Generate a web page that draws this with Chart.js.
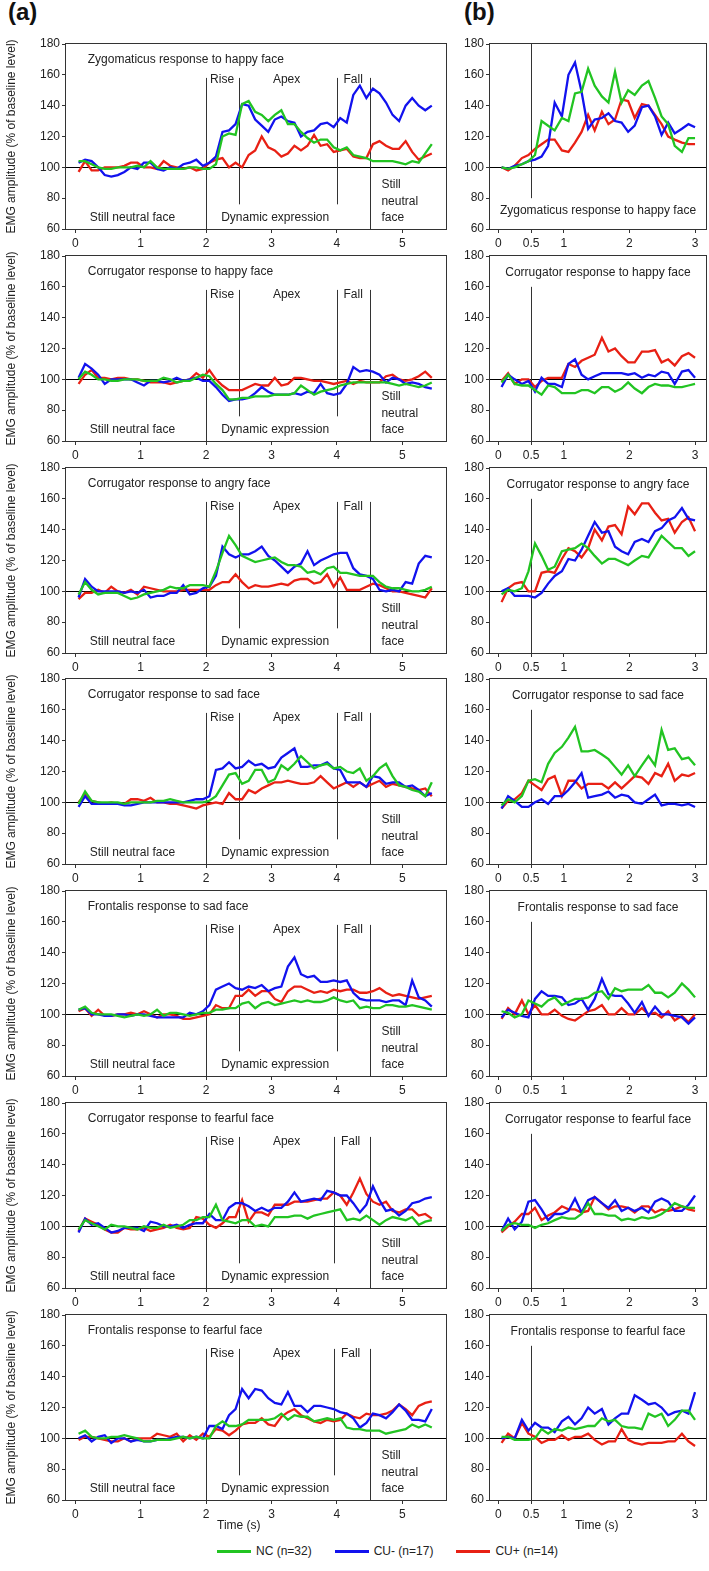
<!DOCTYPE html>
<html>
<head>
<meta charset="utf-8">
<script src="https://cdn.jsdelivr.net/npm/chart.js@4.4.1/dist/chart.umd.min.js"></script>
<style>
  body { margin: 0; background: #fff; width: 709px; height: 1571px; position: relative; overflow: hidden;
         font-family: "Liberation Sans", Arial, sans-serif; color: #222; }
  canvas { position: absolute; }
  .tag { position: absolute; top: 0; font-size: 24px; line-height: 24px; font-weight: bold; color: #111; }
  #legend { position: absolute; left: 217px; top: 1543px; display: flex; align-items: center; font-size: 12px; height: 16px; }
  #legend .sw { width: 34px; height: 3px; margin-right: 5px; }
  #legend .lab { margin-right: 23px; white-space: nowrap; }
</style>
</head>
<body>
<div class="tag" style="left:8px">(a)</div>
<div class="tag" style="left:464px">(b)</div>
<div id="legend"></div>
<script>
// time axis (s)
const tL = [0.05,0.15,0.25,0.35,0.45,0.55,0.65,0.75,0.85,0.95,1.05,1.15,1.25,1.35,1.45,1.55,1.65,1.75,1.85,1.95,
  2.05,2.15,2.25,2.35,2.45,2.55,2.65,2.75,2.85,2.95,3.05,3.15,3.25,3.35,3.45,3.55,3.65,3.75,3.85,3.95,
  4.05,4.15,4.25,4.35,4.45,4.55,4.65,4.75,4.85,4.95,5.05,5.15,5.25,5.35,5.45];
const tR = [0.05,0.15,0.25,0.36,0.46,0.56,0.66,0.76,0.86,0.97,1.07,1.17,1.27,1.37,1.47,1.58,1.68,1.78,1.88,1.98,
  2.08,2.19,2.29,2.39,2.49,2.59,2.69,2.80,2.90,3.00];
const xTicksA = [0, 1, 2, 3, 4, 5];
const xTicksB = [0, 0.5, 1, 2, 3];
// start of "Fall" phase as drawn in each (a) panel
const fallAt = [4, 4, 4, 4, 4, 3.96, 3.96];

const groups = ['NC (n=32)', 'CU- (n=17)', 'CU+ (n=14)'];
const colors = ['rgb(34,196,34)', 'rgb(18,18,238)', 'rgb(232,32,20)'];

const titles = ['Zygomaticus response to happy face', 'Corrugator response to happy face',
  'Corrugator response to angry face', 'Corrugator response to sad face', 'Frontalis response to sad face',
  'Corrugator response to fearful face', 'Frontalis response to fearful face'];

// (a) full trial
const aZygHappyNC = [104,104,102,100,99,99,100,100,100,101, 100,104,100,99,99,99,99,100,100,99, 99,102,120,122,121,141,143,136,134,130, 134,137,128,128,123,119,116,118,118,113, 111,113,108,107,106,104,104,104,104,103, 102,104,103,109,115];
const aZygHappyCUm = [103,105,104,100,95,94,95,97,100,99, 103,103,99,98,100,99,102,103,105,101, 103,107,123,124,128,141,140,131,127,123, 131,133,130,129,120,123,124,128,129,126, 132,129,147,153,145,151,148,142,134,130, 140,145,140,137,140];
const aZygHappyCUp = [97,104,98,98,100,100,100,101,103,103, 100,100,99,104,101,100,99,100,98,99, 103,105,106,100,103,100,108,111,120,113, 111,107,109,114,111,114,121,114,115,110, 111,112,107,106,106,115,117,114,112,112, 117,110,105,107,109];

const aCorHappyNC = [100,105,103,100,100,99,99,100,100,100, 99,99,99,101,100,98,99,99,101,103, 102,97,93,87,87,88,88,89,89,89, 90,90,90,91,96,93,90,92,93,94, 96,97,98,98,98,98,98,98,97,96, 97,96,95,96,98];
const aCorHappyCUm = [101,110,107,103,97,100,100,100,100,98, 96,99,99,98,99,101,99,100,101,99, 99,95,90,86,87,87,88,91,95,92, 90,90,90,91,90,92,91,97,91,90, 91,97,108,105,106,105,103,98,101,100, 97,98,97,95,94];
const aCorHappyCUp = [97,103,106,101,101,100,101,101,100,100, 99,98,98,98,97,98,99,100,104,101, 106,100,96,93,93,93,95,97,96,96, 101,96,97,101,101,100,99,99,98,97, 98,99,97,99,98,98,98,102,103,100, 99,100,102,105,101];

const aCorAngryNC = [98,106,101,98,99,99,99,97,95,96, 98,99,100,101,103,102,102,104,104,104, 103,113,125,136,130,123,121,119,120,121, 122,119,117,117,116,112,113,111,115,116, 112,112,111,110,110,110,106,103,102,102, 101,100,100,101,103];
const aCorAngryCUm = [96,108,103,100,100,100,100,99,100,99, 101,96,97,97,99,99,104,98,99,102, 103,110,129,124,122,124,124,126,129,123, 120,116,112,116,118,126,117,120,122,124, 125,125,115,111,110,108,101,100,101,100, 106,105,118,123,122];
const aCorAngryCUp = [95,99,99,101,99,103,100,99,101,98, 103,102,101,100,100,100,101,101,101,101, 101,104,106,106,111,106,102,104,103,103, 104,105,104,107,108,108,105,106,111,103, 109,101,101,101,103,105,104,102,100,100, 99,98,97,96,102];

const aCorSadNC = [99,107,101,100,100,100,100,99,100,100, 100,100,101,101,102,101,100,100,100,100, 101,104,111,118,119,112,114,121,121,113, 115,124,121,125,130,126,122,124,125,122, 123,120,119,122,114,117,122,125,117,111, 110,108,107,104,113];
const aCorSadCUm = [97,104,99,99,99,99,99,98,98,99, 100,100,100,100,100,100,100,101,102,102, 104,121,122,126,122,123,127,124,125,122, 123,129,132,135,123,123,124,124,126,122, 121,113,113,113,110,117,116,112,113,113, 110,111,108,104,106];
const aCorSadCUp = [100,105,101,100,99,100,99,99,102,102, 101,103,100,100,99,99,98,97,96,98, 99,100,99,106,102,102,108,106,109,111, 113,113,114,113,112,112,113,117,113,109, 111,113,110,113,110,112,114,110,112,111, 110,109,108,109,104];

const aFroSadNC = [103,105,101,100,100,100,99,98,99,100, 99,100,103,99,101,101,100,99,100,101, 101,103,103,104,104,107,108,104,107,108, 106,107,108,109,108,109,108,108,109,111, 109,108,109,104,105,104,104,106,106,105, 105,106,105,104,103];
const aFroSadCUm = [103,104,100,100,99,99,100,100,99,100, 100,99,98,98,98,98,98,101,100,102, 106,116,118,120,117,116,118,117,119,115, 117,118,131,137,126,124,125,121,121,122, 121,122,114,110,109,109,109,108,109,109, 106,122,111,109,105];
const aFroSadCUp = [102,104,99,103,99,99,100,100,101,100, 102,100,98,100,100,99,97,97,98,99, 100,106,104,104,112,112,116,112,115,115, 110,108,115,118,118,116,114,115,114,116, 115,116,116,114,114,115,117,114,112,113, 112,111,110,111,112];

const aCorFearNC = [98,104,102,100,98,101,100,100,99,98, 100,99,99,101,99,100,101,104,104,106, 106,114,104,103,102,104,104,100,101,100, 106,106,106,107,107,105,107,108,109,110, 111,104,105,104,107,104,101,104,106,105, 104,106,101,103,104];
const aCorFearCUm = [96,105,101,102,99,96,97,99,99,99, 97,103,102,100,100,101,99,101,102,102, 108,104,104,112,115,115,113,110,112,110, 112,112,116,122,116,117,118,117,123,122, 120,120,115,109,114,126,117,110,111,107, 110,115,116,118,119];
const aCorFearCUp = [97,105,103,101,98,96,96,99,98,98, 99,97,98,99,101,99,98,99,106,105, 101,99,102,106,106,117,103,109,109,107, 114,114,114,116,116,116,117,118,118,122, 120,114,122,131,121,116,114,116,110,109, 111,111,107,108,105];

const aFroFearNC = [103,105,101,100,100,101,101,102,101,100, 98,98,99,99,99,100,101,100,101,100, 100,108,111,108,108,109,112,112,112,112, 113,116,112,115,114,114,111,112,113,112, 113,107,106,106,105,105,105,103,104,105, 106,109,107,109,107];
const aFroFearCUm = [100,102,98,101,102,97,100,100,98,99, 98,98,99,99,100,101,101,100,101,100, 108,108,106,115,119,132,126,132,131,126, 123,122,130,121,121,117,121,121,120,119, 117,116,113,107,110,116,115,113,117,122, 118,112,112,111,119];
const aFroFearCUp = [99,101,101,100,99,98,98,100,98,100, 100,100,103,102,101,103,98,102,99,103, 101,106,105,102,105,109,110,110,113,109, 108,114,117,119,115,113,111,110,112,111, 112,116,114,113,116,115,115,116,118,122, 119,115,121,123,124];

// (b) first 3 s
const bZygHappyNC = [100,99,100,102,104,108,130,127,124,132,130,148,149,164,153,146,142,162,142,150,147,153,156,145,133,128,114,110,119,119];
const bZygHappyCUm = [100,99,101,102,104,105,107,114,142,133,160,168,149,125,131,132,135,130,129,123,127,139,140,133,121,129,122,125,128,126];
const bZygHappyCUp = [100,98,101,106,108,112,115,118,118,111,110,116,123,134,124,136,128,131,144,143,132,141,140,134,128,120,118,116,115,115];

const bCorHappyNC = [98,103,97,96,96,93,90,96,95,91,91,91,93,93,91,95,95,92,94,98,94,91,95,97,96,96,95,95,96,97];
const bCorHappyCUm = [95,103,100,97,99,92,101,97,97,95,110,113,103,100,102,104,104,104,104,103,104,101,103,102,105,104,97,105,106,101];
const bCorHappyCUp = [99,104,97,100,100,95,99,101,101,101,110,108,112,114,116,127,118,120,115,111,111,118,118,119,111,113,109,115,117,114];

const bCorAngryNC = [98,101,100,102,113,131,123,114,116,126,127,128,131,128,123,118,121,121,119,117,120,123,122,129,136,132,128,128,123,126];
const bCorAngryCUm = [100,102,97,97,97,96,99,105,110,113,121,120,127,136,145,138,139,129,126,124,132,134,132,139,141,146,148,154,147,146];
const bCorAngryCUp = [93,102,105,106,100,100,112,113,112,121,128,126,122,128,140,133,142,143,137,155,150,157,157,151,146,147,138,145,148,139];

const bCorSadNC = [98,102,100,104,114,115,113,125,132,136,142,149,133,133,134,131,128,123,118,124,117,124,130,124,147,134,135,128,129,124];
const bCorSadCUm = [96,104,101,97,97,100,102,99,104,104,108,113,119,103,104,105,107,103,105,104,100,99,102,105,98,99,99,98,99,97];
const bCorSadCUp = [96,101,102,106,114,111,108,115,117,104,114,114,109,112,112,112,109,113,109,113,117,116,112,119,117,125,114,118,117,119];

const bFroSadNC = [102,101,98,100,109,107,105,109,111,106,108,110,110,111,114,115,110,117,115,116,116,116,119,114,114,111,114,120,116,111];
const bFroSadCUm = [98,103,101,99,98,110,115,112,112,111,106,107,110,103,110,123,113,112,112,107,101,108,99,105,100,100,99,98,94,98];
const bFroSadCUp = [97,104,100,109,100,106,100,100,103,99,97,96,99,102,103,106,100,100,104,100,100,104,100,101,98,102,96,99,95,100];

const bCorFearNC = [97,101,102,101,101,99,101,102,104,106,105,105,108,115,108,108,107,107,104,105,104,106,105,106,108,111,115,113,112,112];
const bCorFearCUm = [97,105,98,103,116,117,111,104,108,108,110,118,109,117,119,115,112,117,110,112,110,112,109,116,118,116,110,110,114,120];
const bCorFearCUp = [96,100,103,108,108,112,104,107,109,113,111,111,109,110,119,115,111,113,113,112,109,113,113,109,111,110,111,113,111,110];

const bFroFearNC = [101,101,99,99,99,100,106,103,106,105,107,106,107,108,108,113,111,112,108,107,107,106,116,114,116,108,112,118,118,112];
const bFroFearCUm = [100,101,100,112,105,110,107,107,104,111,114,109,113,120,116,119,109,113,116,116,128,125,122,123,120,115,117,118,116,130];
const bFroFearCUp = [97,103,100,110,103,101,97,99,99,102,99,101,101,103,99,96,98,98,106,99,97,96,97,97,97,98,98,103,98,95];

const panelsA = [
  [aZygHappyNC, aZygHappyCUm, aZygHappyCUp], [aCorHappyNC, aCorHappyCUm, aCorHappyCUp],
  [aCorAngryNC, aCorAngryCUm, aCorAngryCUp], [aCorSadNC, aCorSadCUm, aCorSadCUp],
  [aFroSadNC, aFroSadCUm, aFroSadCUp], [aCorFearNC, aCorFearCUm, aCorFearCUp],
  [aFroFearNC, aFroFearCUm, aFroFearCUp]];
const panelsB = [
  [bZygHappyNC, bZygHappyCUm, bZygHappyCUp], [bCorHappyNC, bCorHappyCUm, bCorHappyCUp],
  [bCorAngryNC, bCorAngryCUm, bCorAngryCUp], [bCorSadNC, bCorSadCUm, bCorSadCUp],
  [bFroSadNC, bFroSadCUm, bFroSadCUp], [bCorFearNC, bCorFearCUm, bCorFearCUp],
  [bFroFearNC, bFroFearCUm, bFroFearCUp]];

Chart.defaults.font.family = '"Liberation Sans", Arial, sans-serif';
Chart.defaults.font.size = 12;
Chart.defaults.color = '#222';

// frame, baseline, phase lines and labels
const decor = {
  id: 'decor',
  beforeDatasetsDraw(chart, args, o) {
    const {ctx, chartArea: a, scales: {x, y}} = chart;
    ctx.save();
    ctx.lineWidth = 1;
    ctx.strokeStyle = '#000';
    const yb = Math.round(y.getPixelForValue(100)) + 0.5;
    ctx.beginPath(); ctx.moveTo(a.left, yb); ctx.lineTo(a.right, yb); ctx.stroke();
    ctx.strokeStyle = '#333';
    (o.lines || []).forEach(([xv, y0, y1]) => {
      const px = Math.round(x.getPixelForValue(xv)) + 0.5;
      ctx.beginPath(); ctx.moveTo(px, y.getPixelForValue(y0)); ctx.lineTo(px, y.getPixelForValue(y1)); ctx.stroke();
    });
    ctx.fillStyle = '#222';
    ctx.font = '12px "Liberation Sans", Arial, sans-serif';
    ctx.textBaseline = 'middle';
    (o.texts || []).forEach(t => {
      ctx.textAlign = t.align || 'left';
      const px = t.x === 'mid' ? (a.left + a.right) / 2 : x.getPixelForValue(t.x);
      ctx.fillText(t.s, px, y.getPixelForValue(t.y));
    });
    if (o.timeAt != null) {
      ctx.textAlign = 'center';
      ctx.fillText('Time (s)', x.getPixelForValue(o.timeAt), a.bottom + 26);
    }
    ctx.strokeStyle = '#333';
    ctx.strokeRect(Math.round(a.left) - 0.5, Math.round(a.top) - 0.5, Math.round(a.right - a.left) + 1, Math.round(a.bottom - a.top) + 1);
    ctx.restore();
  }
};

function makePanel(row, col) {
  const isA = col === 0;
  const top = Math.round(44 + 211.8 * row) - 10;
  const last = row === 6;
  const h = 10 + 185 + 26 + (last ? 44 : 0);
  const w = isA ? 460 : 254;
  const cv = document.createElement('canvas');
  cv.width = w; cv.height = h;
  cv.style.left = (isA ? 0 : 455) + 'px';
  cv.style.top = top + 'px';
  cv.style.width = w + 'px'; cv.style.height = h + 'px';
  document.body.appendChild(cv);

  const t = isA ? tL : tR;
  const series = isA ? panelsA[row] : panelsB[row];
  const xt = isA ? xTicksA : xTicksB;

  let lines, texts;
  if (isA) {
    const f = fallAt[row];
    lines = [[2, 158, 60], [2.5, 158, 76], [f, 158, 76], [4.5, 158, 60]];
    const ty = row === 0 ? 157 : 155;
    texts = [
      {s: titles[row], x: 0.19, y: 170},
      {s: 'Rise', x: 2.06, y: ty}, {s: 'Apex', x: 3.23, y: ty, align: 'center'}, {s: 'Fall', x: f + 0.1, y: ty},
      {s: 'Still neutral face', x: 0.22, y: 67.5}, {s: 'Dynamic expression', x: 2.23, y: 67.5},
      {s: 'Still', x: 4.68, y: 88.5}, {s: 'neutral', x: 4.68, y: 78}, {s: 'face', x: 4.68, y: 67.5}];
  } else {
    lines = row === 0 ? [[0.5, 180, 80]] : [[0.5, 160, 60]];
    texts = [{s: titles[row], x: 'mid', y: row === 0 ? 72 : 169.5, align: 'center'}];
  }

  new Chart(cv, {
    type: 'line',
    data: {
      datasets: series.map((vals, k) => ({
        label: groups[k],
        data: vals.map((v, i) => ({x: t[i], y: v})),
        borderColor: colors[k],
        borderWidth: 2.3,
        pointRadius: 0,
        tension: 0,
        fill: false
      }))
    },
    options: {
      responsive: false,
      animation: false,
      devicePixelRatio: 1,
      events: [],
      layout: {padding: {top: 10, bottom: last ? 44 : 0, left: 0, right: isA ? 14 : 3}},
      plugins: {legend: {display: false}, tooltip: {enabled: false},
        decor: {lines, texts, timeAt: last ? (isA ? 2.5 : 1.5) : null}},
      scales: {
        x: {
          type: 'linear',
          min: isA ? -0.142 : -0.126,
          max: isA ? 5.667 : 3.167,
          afterBuildTicks: s => { s.ticks = xt.map(v => ({value: v})); },
          afterFit: s => { s.height = 26; },
          ticks: {padding: 3, color: '#222', callback: v => String(v), maxRotation: 0, autoSkip: false},
          grid: {display: true, drawOnChartArea: false, drawTicks: true, tickLength: 4, tickColor: '#333'},
          border: {display: false}
        },
        y: {
          min: 60, max: 180,
          afterFit: s => { s.width = isA ? 66 : 35; },
          ticks: {stepSize: 20, padding: 2, color: '#222'},
          grid: {display: true, drawOnChartArea: false, drawTicks: true, tickLength: 4, tickColor: '#333'},
          border: {display: false},
          title: {display: isA, text: 'EMG amplitude (% of baseline level)', color: '#222', font: {size: 12}}
        }
      }
    },
    plugins: [decor]
  });
}

for (let r = 0; r < 7; r++) { makePanel(r, 0); makePanel(r, 1); }

// legend
const lg = document.getElementById('legend');
groups.forEach((g, k) => {
  const sw = document.createElement('span');
  sw.className = 'sw'; sw.style.background = colors[k];
  const lab = document.createElement('span');
  lab.className = 'lab'; lab.textContent = g;
  lg.appendChild(sw); lg.appendChild(lab);
});
</script>
</body>
</html>
